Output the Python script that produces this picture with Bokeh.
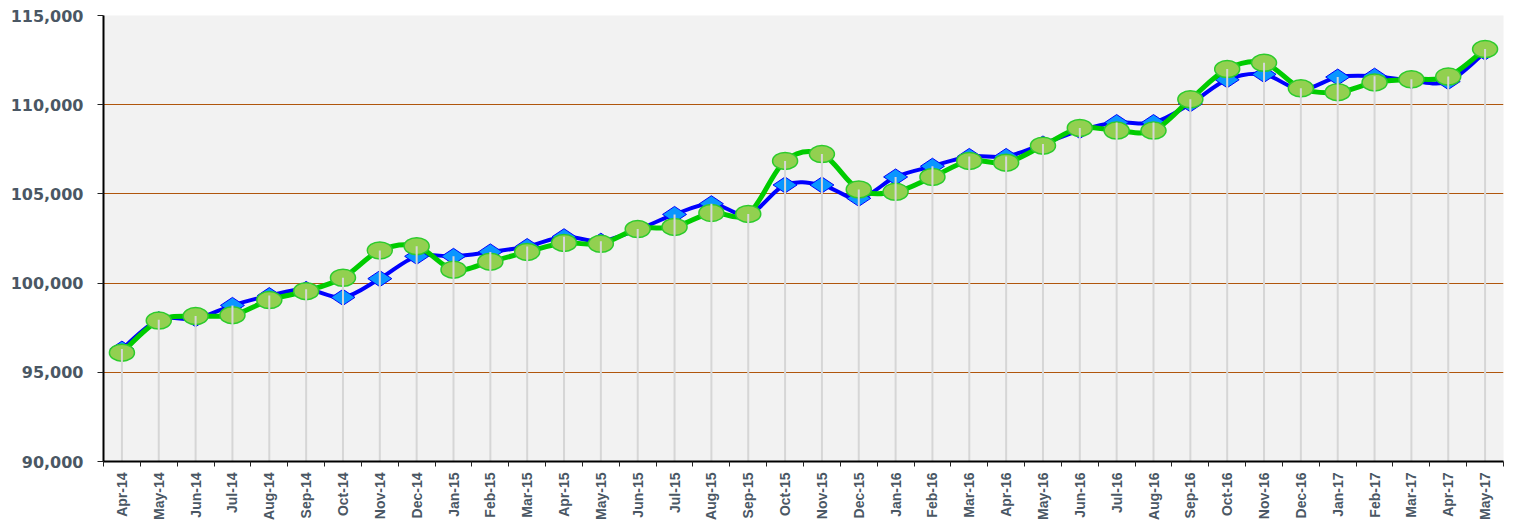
import math
from bokeh.plotting import figure
from bokeh.models import FixedTicker, NumeralTickFormatter, Range1d
from bokeh.embed import file_html
from bokeh.resources import INLINE

months = ["Apr-14", "May-14", "Jun-14", "Jul-14", "Aug-14", "Sep-14", "Oct-14", "Nov-14",
          "Dec-14", "Jan-15", "Feb-15", "Mar-15", "Apr-15", "May-15", "Jun-15", "Jul-15",
          "Aug-15", "Sep-15", "Oct-15", "Nov-15", "Dec-15", "Jan-16", "Feb-16", "Mar-16",
          "Apr-16", "May-16", "Jun-16", "Jul-16", "Aug-16", "Sep-16", "Oct-16", "Nov-16",
          "Dec-16", "Jan-17", "Feb-17", "Mar-17", "Apr-17", "May-17"]

blue_values = [96300, 97950, 98000, 98750, 99300, 99650, 99200, 100250,
               101500, 101500, 101750, 102050, 102600, 102350, 103000, 103850,
               104450, 103850, 105500, 105500, 104750, 105950, 106550, 107100,
               107100, 107800, 108550, 109000, 109000, 110050, 111400, 111700,
               110850, 111550, 111600, 111350, 111300, 112950]

green_values = [96100, 97900, 98150, 98200, 99050, 99550, 100300, 101830,
                102070, 100750, 101200, 101750, 102250, 102200, 103030, 103150,
                103930, 103880, 106850, 107230, 105250, 105120, 105950, 106850,
                106750, 107700, 108700, 108550, 108550, 110300, 112000, 112350,
                110920, 110700, 111250, 111420, 111580, 113120]

y_ticks = [90000, 95000, 100000, 105000, 110000, 115000]

xs = list(range(len(months)))

p = figure(width=1517, height=522, output_backend="svg", toolbar_location=None,
           x_range=Range1d(-0.5, len(months) - 0.5), y_range=Range1d(90000, 115000),
           min_border_left=103, min_border_right=14, min_border_top=15, min_border_bottom=59)

p.border_fill_color = "white"
p.outline_line_color = None
p.background_fill_color = "#f2f2f2"

# axes
p.xaxis.ticker = FixedTicker(ticks=xs, minor_ticks=[i - 0.5 for i in range(len(months) + 1)])
p.xaxis.major_label_overrides = {i: m for i, m in enumerate(months)}
p.xaxis.major_label_orientation = math.pi / 2
p.xaxis.major_tick_line_color = None
p.xaxis.minor_tick_in = 0
p.xaxis.minor_tick_out = 5
p.xaxis.minor_tick_line_color = "#222222"
p.xaxis.axis_line_color = "black"
p.xaxis.axis_line_width = 2
p.xaxis.major_label_standoff = 5
p.xaxis.major_label_text_font = "Liberation Sans"
p.xaxis.major_label_text_font_style = "bold"
p.xaxis.major_label_text_font_size = "14px"
p.xaxis.major_label_text_color = "#4a5764"

p.yaxis.ticker = FixedTicker(ticks=y_ticks)
p.yaxis.formatter = NumeralTickFormatter(format="0,0")
p.yaxis.minor_tick_line_color = None
p.yaxis.major_tick_in = 0
p.yaxis.major_tick_out = 6
p.yaxis.major_tick_line_color = "#222222"
p.yaxis.axis_line_color = "black"
p.yaxis.axis_line_width = 2
p.yaxis.major_label_standoff = 14
p.yaxis.major_label_text_font = "DejaVu Sans"
p.yaxis.major_label_text_font_style = "bold"
p.yaxis.major_label_text_font_size = "16px"
p.yaxis.major_label_text_color = "#4a5764"

p.xgrid.grid_line_color = None
p.ygrid.grid_line_color = "#b0560c"
p.ygrid.grid_line_width = 1


def bezier_parts(ys, t=1.0):
    n = len(ys)
    x0, y0, x1, y1, cx0, cy0, cx1, cy1 = [], [], [], [], [], [], [], []
    for i in range(n - 1):
        xm1, ym1 = (xs[i - 1], ys[i - 1]) if i > 0 else (xs[i], ys[i])
        xp2, yp2 = (xs[i + 2], ys[i + 2]) if i + 2 < n else (xs[i + 1], ys[i + 1])
        x0.append(xs[i]); y0.append(ys[i])
        x1.append(xs[i + 1]); y1.append(ys[i + 1])
        cx0.append(xs[i] + t * (xs[i + 1] - xm1) / 6)
        cy0.append(ys[i] + t * (ys[i + 1] - ym1) / 6)
        cx1.append(xs[i + 1] - t * (xp2 - xs[i]) / 6)
        cy1.append(ys[i + 1] - t * (yp2 - ys[i]) / 6)
    return dict(x0=x0, y0=y0, x1=x1, y1=y1, cx0=cx0, cy0=cy0, cx1=cx1, cy1=cy1)


# blue series
p.bezier(line_color="#0000ff", line_width=4, line_cap="round", **bezier_parts(blue_values))
p.scatter(xs, blue_values, marker="diamond", size=24, angle=math.pi / 2,
          fill_color="#0a96ff", line_color="#0000ff", line_width=1)

# green series
p.bezier(line_color="#00cc00", line_width=5, line_cap="round", **bezier_parts(green_values))
p.ellipse(xs, green_values, width=25, height=17, width_units="screen", height_units="screen",
          fill_color="#92d050", line_color="#2ccc2c", line_width=1.5)

# drop lines
tops = [max(b, g) for b, g in zip(blue_values, green_values)]
p.segment(x0=xs, y0=[90000] * len(xs), x1=xs, y1=tops, line_color="#d6d6d6", line_width=2)

open("out.html", "w").write(file_html(p, INLINE))
